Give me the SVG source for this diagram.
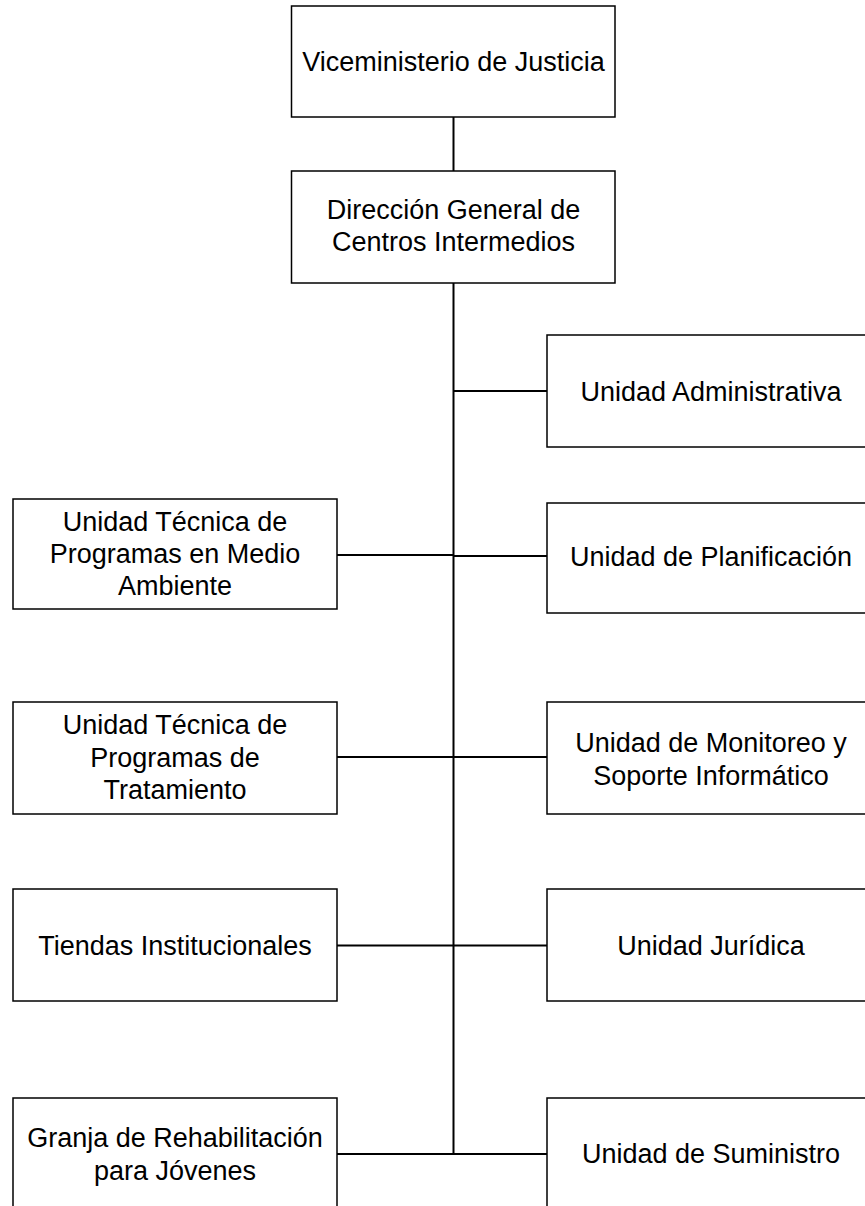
<svg xmlns="http://www.w3.org/2000/svg" width="865" height="1206" viewBox="0 0 865 1206">
<style>
.box{fill:#ffffff;stroke:#000000;stroke-width:1.5}
.t{font-family:"Liberation Sans",Arial,sans-serif;font-size:27px;fill:#000000;text-anchor:middle}
.c{stroke:#000000;stroke-width:2;fill:none}
</style>
<rect x="0" y="0" width="865" height="1206" fill="#ffffff"/>
<g id="connectors">
<line class="c" x1="453.5" y1="117" x2="453.5" y2="171"/>
<line class="c" x1="453.5" y1="283" x2="453.5" y2="1155"/>
<line class="c" x1="453.5" y1="391" x2="547" y2="391"/>
<line class="c" x1="337" y1="555" x2="453.5" y2="555"/>
<line class="c" x1="453.5" y1="556" x2="547" y2="556"/>
<line class="c" x1="337" y1="757" x2="547" y2="757"/>
<line class="c" x1="337" y1="945.5" x2="547" y2="945.5"/>
<line class="c" x1="337" y1="1154" x2="547" y2="1154"/>
</g>
<g id="n1">
<rect class="box" x="291.5" y="6" width="323.5" height="111"/>
<text class="t" x="453.5" y="71">Viceministerio de Justicia</text>
</g>
<g id="n2">
<rect class="box" x="291.5" y="171" width="323.5" height="112"/>
<text class="t" x="453.5" y="219">Dirección General de</text>
<text class="t" x="453.5" y="251">Centros Intermedios</text>
</g>
<g id="n3">
<rect class="box" x="547" y="335" width="330" height="112"/>
<text class="t" x="711" y="400.5">Unidad Administrativa</text>
</g>
<g id="n4">
<rect class="box" x="13" y="499" width="324" height="110"/>
<text class="t" x="175" y="531">Unidad Técnica de</text>
<text class="t" x="175" y="563">Programas en Medio</text>
<text class="t" x="175" y="595">Ambiente</text>
</g>
<g id="n5">
<rect class="box" x="547" y="503" width="330" height="110"/>
<text class="t" x="711" y="566">Unidad de Planificación</text>
</g>
<g id="n6">
<rect class="box" x="13" y="702" width="324" height="112"/>
<text class="t" x="175" y="734">Unidad Técnica de</text>
<text class="t" x="175" y="766.5">Programas de</text>
<text class="t" x="175" y="799">Tratamiento</text>
</g>
<g id="n7">
<rect class="box" x="547" y="702" width="330" height="112"/>
<text class="t" x="711" y="752">Unidad de Monitoreo y</text>
<text class="t" x="711" y="785">Soporte Informático</text>
</g>
<g id="n8">
<rect class="box" x="13" y="889" width="324" height="112"/>
<text class="t" x="175" y="955">Tiendas Institucionales</text>
</g>
<g id="n9">
<rect class="box" x="547" y="889" width="330" height="112"/>
<text class="t" x="711" y="955">Unidad Jurídica</text>
</g>
<g id="n10">
<rect class="box" x="13" y="1098" width="324" height="120"/>
<text class="t" x="175" y="1147">Granja de Rehabilitación</text>
<text class="t" x="175" y="1180">para Jóvenes</text>
</g>
<g id="n11">
<rect class="box" x="547" y="1098" width="330" height="120"/>
<text class="t" x="711" y="1163">Unidad de Suministro</text>
</g>
</svg>
